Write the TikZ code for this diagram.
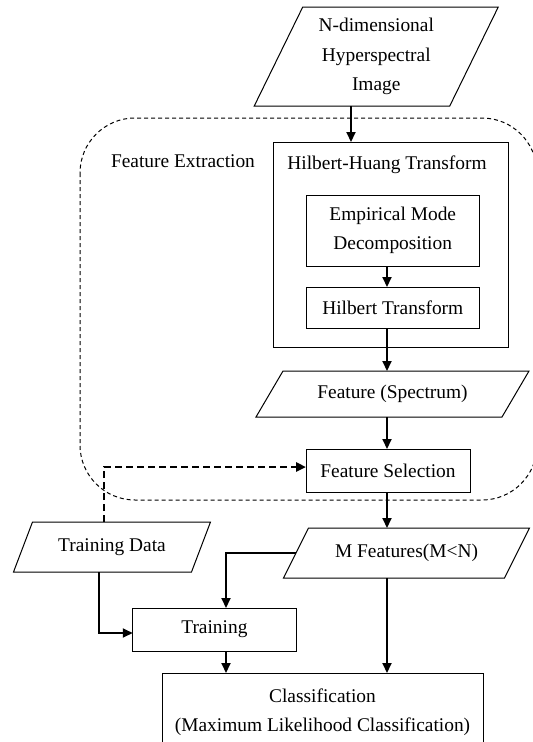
\documentclass[tikz,border=0pt]{standalone}
\usepackage{fontspec}
\setmainfont{Liberation Serif}
\usetikzlibrary{arrows.meta,calc}
\newcommand\drawpara[2]{\draw[paraline] ($(#1.north west)+(#2,0)$) -- ($(#1.north east)+(#2,0)$) -- ($(#1.south east)-(#2,0)$) -- ($(#1.south west)-(#2,0)$) -- cycle;}
\begin{document}
\begin{tikzpicture}[x=1pt,y=-1pt,
  every node/.style={font=\fontsize{19.4}{29.5}\selectfont, inner sep=0pt, outer sep=0pt, align=center},
  box/.style={draw, line width=1pt, rectangle},
  paraline/.style={line width=1pt, line join=miter},
  arr/.style={line width=2pt, -{Triangle[length=10pt,width=9pt]}},
  darr/.style={line width=2.5pt, dash pattern=on 7pt off 4pt, -{Triangle[length=10pt,width=9pt]}},
  region/.style={line width=1pt, dash pattern=on 4pt off 3pt, rounded corners=55pt}]
\useasboundingbox (0,0) rectangle (533,742);

% dashed feature extraction region
\draw[region] (80,118) rectangle (537,500);
\node (fextr) at (183,161) {Feature Extraction};

% input image
\node[minimum width=195.5pt, minimum height=99pt] (img) at (376.25,56.5) {N-dimensional\\Hyperspectral\\Image};
\drawpara{img}{24.25}

% HHT block
\node[box, minimum width=235pt, minimum height=205pt] (hht) at (390.5,244.5) {};
\node (hhtlabel) at (387,165) {Hilbert-Huang Transform};
\node[box, minimum width=172.5pt, minimum height=71pt] (emd) at (392.75,230.5) {Empirical Mode\\Decomposition};
\node[box, minimum width=172.5pt, minimum height=41pt] (ht) at (392.75,307.5) {Hilbert Transform};

% feature spectrum
\node[minimum width=246pt, minimum height=46pt] (fspec) at (392.5,394) {Feature (Spectrum)};
\drawpara{fspec}{13.5}

% feature selection
\node[box, minimum width=164pt, minimum height=43pt] (fsel) at (388,470.5) {Feature Selection};

% M features
\node[minimum width=221pt, minimum height=50pt] (mfeat) at (406.5,553) {M Features(M<N)};
\drawpara{mfeat}{12.5}

% training data
\node[minimum width=178pt, minimum height=50pt] (tdata) at (112,547) {Training Data};
\drawpara{tdata}{9.5}

% training
\node[box, minimum width=163.3pt, minimum height=43pt] (train) at (214.4,629.5) {Training};

% classification
\node[box, minimum width=321pt, minimum height=100pt, anchor=north] (cls) at (322.5,673) {};
\node (clstext) at (322.5,712) {Classification\\(Maximum Likelihood Classification)};

% helper coordinates for connector columns
\coordinate (c351) at (351,0);
\coordinate (c387) at (387,0);
\coordinate (c226) at (226,0);
\coordinate (c104) at (104,0);
\coordinate (c99) at (99,0);
\coordinate (r467) at (0,467);
\coordinate (r633) at (0,633);

% connectors
\draw[arr] (img.south -| c351) -- (hht.north -| c351);
\draw[arr] (emd.south -| c387) -- (ht.north -| c387);
\draw[arr] (ht.south -| c387) -- (fspec.north -| c387);
\draw[arr] (fspec.south -| c387) -- (fsel.north -| c387);
\draw[arr] (fsel.south -| c387) -- (mfeat.north -| c387);
\draw[darr] (tdata.north -| c104) -- (c104 |- r467) -- (fsel.west |- r467);
\draw[arr] (mfeat.west) -- (mfeat.west -| c226) -- (train.north -| c226);
\draw[arr] (tdata.south -| c99) -- (c99 |- r633) -- (train.west |- r633);
\draw[arr] (train.south -| c226) -- (cls.north -| c226);
\draw[arr] (mfeat.south -| c387) -- (cls.north -| c387);
\end{tikzpicture}
\end{document}
